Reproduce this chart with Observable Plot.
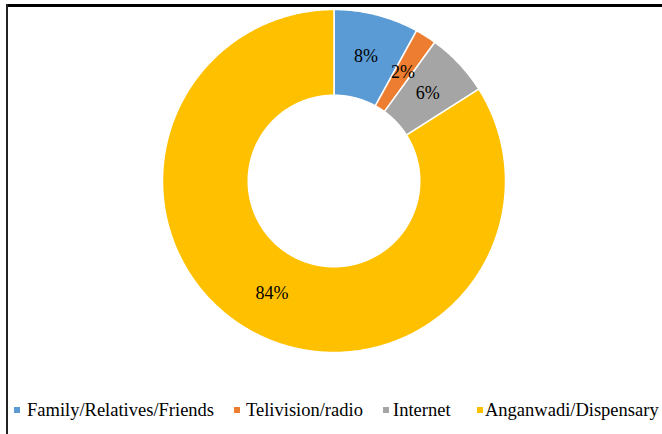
<!DOCTYPE html>
<html>
<head>
<meta charset="utf-8">
<script src="https://cdn.jsdelivr.net/npm/d3@7"></script>
<script src="https://cdn.jsdelivr.net/npm/@observablehq/plot@0.6"></script>
<style>
  html, body { margin: 0; padding: 0; background: #fff; }
  #frame { position: relative; width: 662px; height: 434px; overflow: hidden; background: #fff; font-family: 'Liberation Serif', serif; }
  #chart { position: absolute; left: 0; top: 0; }
  .bt { position: absolute; left: 6px; top: 4px; width: 660px; height: 3px; background: #000; }
  .bl { position: absolute; left: 6px; top: 4px; width: 2px; height: 440px; background: #222; }
  #legend { position: absolute; top: 398px; left: 0; width: 662px; height: 24px; font-size: 18.5px; color: #000; }
  .txt { position: absolute; top: 0; white-space: nowrap; line-height: 24px; }
  .sw { position: absolute; top: 9px; width: 6px; height: 6px; }
</style>
</head>
<body>
<div id="frame">
  <div id="chart"></div>
  <div class="bt"></div>
  <div class="bl"></div>
  <div id="legend"></div>
</div>
<script>
const categories = ["Family/Relatives/Friends", "Telivision/radio", "Internet", "Anganwadi/Dispensary"];
const values = [8, 2, 6, 84];
const labels = ["8%", "2%", "6%", "84%"];
const colors = ["#5B9BD5", "#ED7D31", "#A5A5A5", "#FFC000"];
const swatchLeft = [14, 234, 383, 477];
const textLeft = [27, 246, 393, 485];

const innerR = 0.5, outerR = 1;
const arcs = d3.pie().sort(null).value(d => d)(values);

// polygon points for each slice (angles clockwise from 12 o'clock)
const pts = [];
arcs.forEach((a, i) => {
  const n = Math.max(4, Math.ceil((a.endAngle - a.startAngle) / 0.01));
  for (let k = 0; k <= n; k++) {
    const t = a.startAngle + (a.endAngle - a.startAngle) * k / n;
    pts.push({key: categories[i], x: outerR * Math.sin(t), y: outerR * Math.cos(t)});
  }
  for (let k = n; k >= 0; k--) {
    const t = a.startAngle + (a.endAngle - a.startAngle) * k / n;
    pts.push({key: categories[i], x: innerR * Math.sin(t), y: innerR * Math.cos(t)});
  }
});
const labelPts = arcs.map((a, i) => {
  const m = (a.startAngle + a.endAngle) / 2, r = (innerR + outerR) / 2;
  return {key: categories[i], label: labels[i], x: r * Math.sin(m), y: r * Math.cos(m)};
});

const plot = Plot.plot({
  width: 662,
  height: 390,
  margin: 0,
  x: {domain: [-1, 1], range: [162, 505], axis: null},
  y: {domain: [-1, 1], range: [352, 9], axis: null},
  color: {domain: categories, range: colors},
  style: {background: "transparent", fontFamily: "'Liberation Serif', serif"},
  marks: [
    Plot.line(pts, {x: "x", y: "y", z: "key", fill: "key", stroke: "white", strokeWidth: 1.5, curve: "linear-closed"}),
    Plot.text(labelPts, {x: "x", y: "y", text: "label", fontSize: 18, fill: "#000"})
  ]
});
document.getElementById("chart").appendChild(plot);

const leg = document.getElementById("legend");
categories.forEach((c, i) => {
  const sw = document.createElement("span");
  sw.className = "sw";
  sw.style.left = swatchLeft[i] + "px";
  sw.style.background = colors[i];
  leg.appendChild(sw);
  const t = document.createElement("span");
  t.className = "txt";
  t.style.left = textLeft[i] + "px";
  t.textContent = c;
  leg.appendChild(t);
});
</script>
</body>
</html>
